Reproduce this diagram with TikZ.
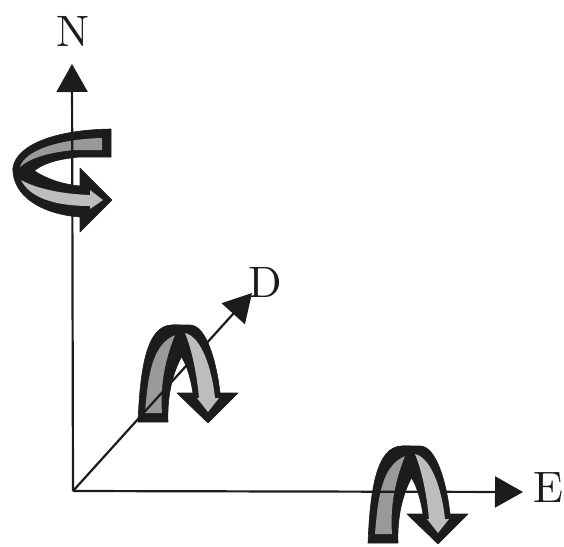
\documentclass[tikz,border=0pt]{standalone}
\usetikzlibrary{arrows.meta}
\definecolor{ink}{HTML}{1C1C1C}
\definecolor{bandA}{HTML}{999999}
\definecolor{bandB}{HTML}{BDBDBD}
\tikzset{
  outline/.style={fill=ink,draw=ink,line width=0.6pt,line join=round},
  banddark/.style={fill=bandA},
  bandlight/.style={fill=bandB},
  axis/.style={draw=ink,line width=2.2pt,-{Triangle[length=28pt,width=31pt]}},
  lab/.style={font=\normalsize,scale=4.4,text=ink,inner sep=0pt},
  arch left/.pic={
    \path[outline] (138,422) .. controls (140,375) and (145,325) .. (172,325)
      -- (180,325) -- (182,356) .. controls (173,372) and (167,395) .. (168,422) -- cycle;
    \path[banddark] (145,413) .. controls (148,375) and (152,345) .. (175,335)
      .. controls (165,360) and (160,385) .. (162,413) -- cycle;
  },
  arch right/.pic={
    \path[outline] (172,325) -- (190,325) .. controls (207,325) and (217,365) .. (220,393)
      -- (238,393) -- (208,423) -- (177,393) -- (193,393)
      .. controls (191,380) and (187,365) .. (181,356) -- cycle;
    \path[bandlight] (185,333) .. controls (202,337) and (212,370) .. (215,398)
      -- (219,398) -- (208,412) -- (197,398) -- (199,398)
      .. controls (197,375) and (192,350) .. (185,333) -- cycle;
  },
}
\begin{document}
\begin{tikzpicture}[x=1pt,y=-1pt]
\useasboundingbox (0,0) rectangle (564,546);
\coordinate (O) at (73,491);
\coordinate (Ntip) at (72,64);
\coordinate (Dtip) at (252,293);
\coordinate (Etip) at (523,492);
\node[lab] (N) at (73,31) {N};
\node[lab] (D) at (265,282) {D};
\node[lab] (E) at (548,488) {E};
% arch bands behind the axes
\pic {arch left};
\pic[shift={(230,121)}] {arch left};
% N swirl, upper band
\path[outline] (111,129) -- (111,157) -- (80,157)
  .. controls (55,159) and (40,165) .. (33,172)
  -- (13,172) .. controls (11,150) and (45,130) .. (111,129) -- cycle;
\path[banddark] (102,138) -- (102,150) -- (75,150)
  .. controls (50,152) and (30,158) .. (20,167)
  .. controls (25,150) and (60,139) .. (102,138) -- cycle;
% axes
\draw[axis] (O) -- (Ntip);
\draw[axis] (O) -- (Etip);
\draw[axis] (O) -- (Dtip);
% arch bands in front of the axes
\pic {arch right};
\pic[shift={(230,121)}] {arch right};
% N swirl, lower band with arrow
\path[outline] (13,168) .. controls (12,195) and (40,214) .. (80,217)
  -- (80,232) -- (112,200) -- (80,168) -- (80,186)
  .. controls (60,184) and (45,178) .. (33,170) -- cycle;
\path[bandlight] (21,180) .. controls (35,188) and (60,194) .. (90,195)
  -- (90,190) -- (103,200) -- (90,209) -- (90,206)
  .. controls (55,206) and (30,198) .. (21,180) -- cycle;
\end{tikzpicture}
\end{document}
